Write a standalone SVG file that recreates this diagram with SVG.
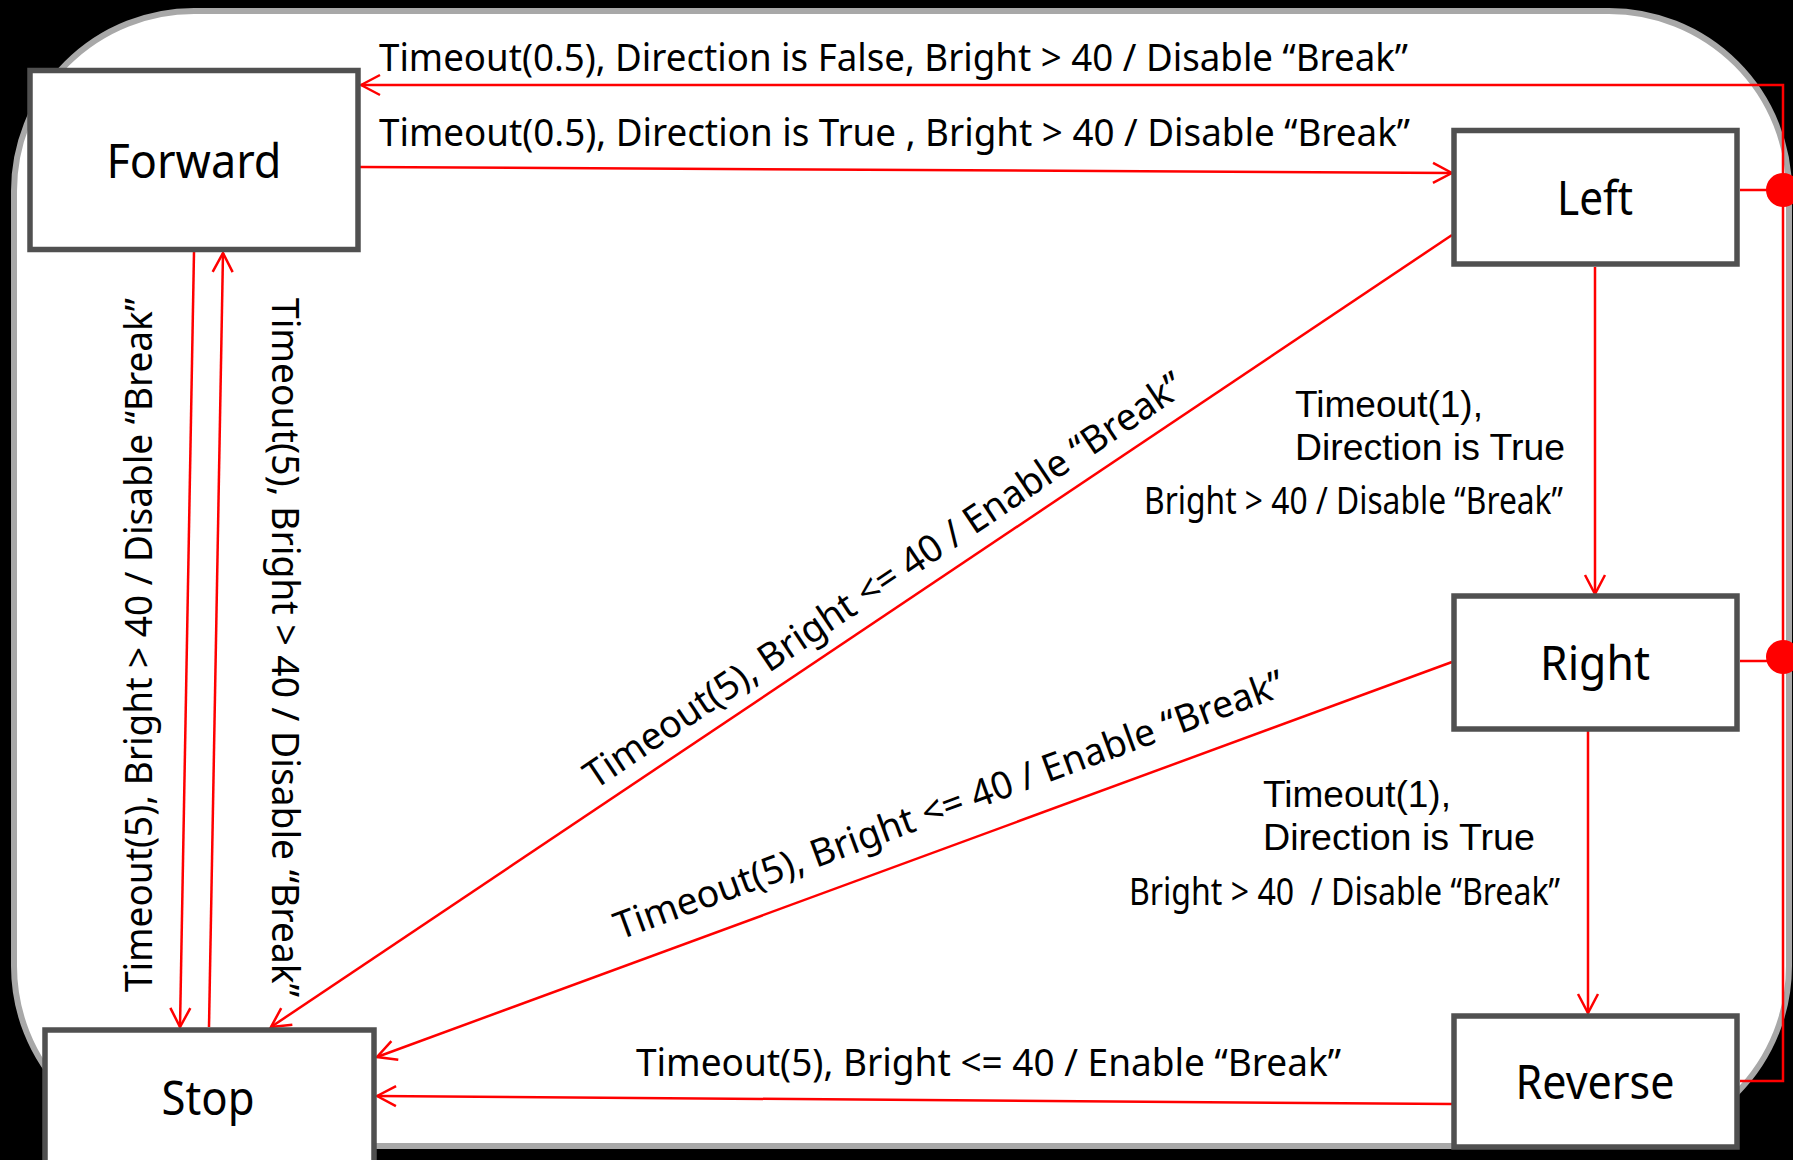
<svg xmlns="http://www.w3.org/2000/svg" width="1793" height="1160" viewBox="0 0 1793 1160">
<style>
.bg{fill:#000}
.frame{fill:#fff;stroke:#a8a8a8;stroke-width:6}
.node rect{fill:#fff;stroke:#505050;stroke-width:5.5}
.node text{font-family:"Noto Sans","Open Sans",sans-serif;font-size:48px;fill:#000;text-anchor:middle}
.conn{fill:none;stroke:#ff0000;stroke-width:2.5}
.arrow{marker-end:url(#arr)}
.lbl{font-family:"Noto Sans","Open Sans",sans-serif;fill:#000;font-size:38px;white-space:pre}
.lbl2{font-family:"Liberation Sans",Arial,sans-serif;fill:#000;font-size:37.5px;white-space:pre}
.dot{fill:#ff0000}
</style>
<defs>
<marker id="arr" markerUnits="userSpaceOnUse" markerWidth="22" markerHeight="24" viewBox="-20 -12 22 24" refX="0" refY="0" orient="auto">
<path d="M-19,-10 L0,0 L-19,10" fill="none" stroke="#ff0000" stroke-width="2.5"/>
</marker>
</defs>
<rect class="bg" x="0" y="0" width="1793" height="1160"/>
<rect class="frame" x="14" y="11" width="1775" height="1135" rx="180" ry="180"/>

<g id="connectors">
<path class="conn arrow" d="M1740,1081 L1783,1081 L1783,85 L361,85"/>
<path class="conn" d="M1740,190 L1783,190"/>
<path class="conn" d="M1740,661 L1783,661"/>
<circle class="dot" cx="1783" cy="190" r="17"/>
<circle class="dot" cx="1783" cy="657" r="17"/>
<path class="conn arrow" d="M360,167 L1452,173"/>
<path class="conn arrow" d="M1595,267 L1595,594"/>
<path class="conn arrow" d="M1588,731 L1588,1013"/>
<path class="conn arrow" d="M1452,1104 L377,1096"/>
<path class="conn arrow" d="M1452,662 L377,1057"/>
<path class="conn arrow" d="M1452,235 L271,1027"/>
<path class="conn arrow" d="M194,252 L180,1027"/>
<path class="conn arrow" d="M209,1027 L223,253"/>

<text class="lbl" x="379" y="71" textLength="1029" lengthAdjust="spacingAndGlyphs">Timeout(0.5), Direction is False, Bright &gt; 40 / Disable “Break”</text>
<text class="lbl" x="379" y="146" textLength="1031" lengthAdjust="spacingAndGlyphs">Timeout(0.5), Direction is True , Bright &gt; 40 / Disable “Break”</text>
<text class="lbl" transform="translate(152,992) rotate(-90)" font-size="39" textLength="694" lengthAdjust="spacingAndGlyphs">Timeout(5), Bright &gt; 40 / Disable “Break”</text>
<text class="lbl" transform="translate(272,298) rotate(90)" font-size="40" textLength="699" lengthAdjust="spacingAndGlyphs">Timeout(5), Bright &gt; 40 / Disable “Break”</text>
<text class="lbl" transform="translate(595,790) rotate(-33.9)" font-size="40" textLength="713" lengthAdjust="spacingAndGlyphs">Timeout(5), Bright &lt;= 40 / Enable “Break”</text>
<text class="lbl" transform="translate(620,940) rotate(-20.2)" font-size="40" textLength="711" lengthAdjust="spacingAndGlyphs">Timeout(5), Bright &lt;= 40 / Enable “Break”</text>
<text class="lbl" x="636" y="1076" textLength="705" lengthAdjust="spacingAndGlyphs">Timeout(5), Bright &lt;= 40 / Enable “Break”</text>
<text class="lbl2" x="1295" y="417" textLength="188" lengthAdjust="spacingAndGlyphs">Timeout(1),</text>
<text class="lbl2" x="1295" y="460" textLength="270" lengthAdjust="spacingAndGlyphs">Direction is True</text>
<text class="lbl" x="1144" y="514" font-size="30" textLength="419" lengthAdjust="spacingAndGlyphs">Bright &gt; 40 / Disable “Break”</text>
<text class="lbl2" x="1263" y="807" textLength="188" lengthAdjust="spacingAndGlyphs">Timeout(1),</text>
<text class="lbl2" x="1263" y="850" textLength="272" lengthAdjust="spacingAndGlyphs">Direction is True</text>
<text class="lbl" x="1129" y="905" font-size="30" textLength="431" lengthAdjust="spacingAndGlyphs">Bright &gt; 40  / Disable “Break”</text>
</g>

<g id="node-forward" class="node">
<rect x="30" y="70.5" width="328" height="179"/>
<text x="194" y="178" textLength="175" lengthAdjust="spacingAndGlyphs">Forward</text>
</g>
<g id="node-left" class="node">
<rect x="1454" y="130.5" width="283" height="133.5"/>
<text x="1595" y="215" textLength="76" lengthAdjust="spacingAndGlyphs">Left</text>
</g>
<g id="node-right" class="node">
<rect x="1454" y="596" width="283" height="133"/>
<text x="1595" y="680" textLength="110" lengthAdjust="spacingAndGlyphs">Right</text>
</g>
<g id="node-reverse" class="node">
<rect x="1454" y="1016" width="283" height="131"/>
<text x="1595" y="1099" textLength="159" lengthAdjust="spacingAndGlyphs">Reverse</text>
</g>
<g id="node-stop" class="node">
<rect x="45" y="1030" width="329" height="160"/>
<text x="208" y="1115" textLength="93" lengthAdjust="spacingAndGlyphs">Stop</text>
</g>
</svg>
